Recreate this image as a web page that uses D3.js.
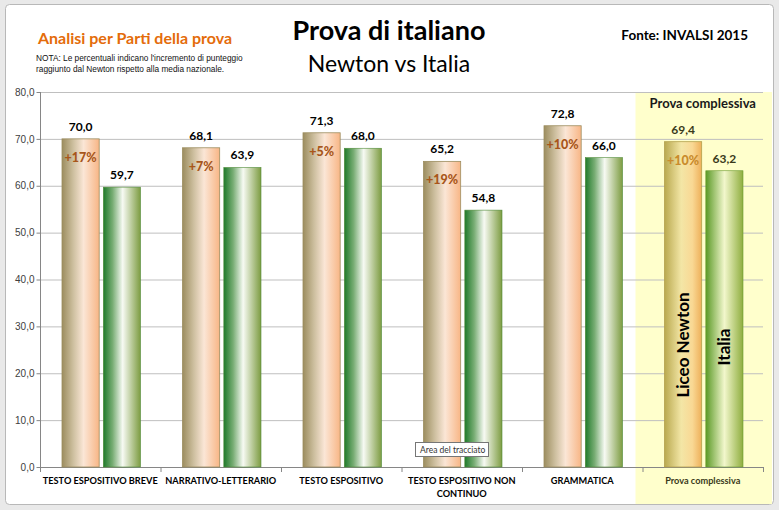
<!DOCTYPE html>
<html>
<head>
<meta charset="utf-8">
<script src="https://cdn.jsdelivr.net/npm/d3@7"></script>
<style>
  body { margin: 0; background: #e9e9e9; }
  svg { display: block; }
</style>
</head>
<body>
<svg></svg>
<script>
// data
let categories = ["TESTO ESPOSITIVO BREVE", "NARRATIVO-LETTERARIO", "TESTO ESPOSITIVO",
                  "TESTO ESPOSITIVO NON CONTINUO", "GRAMMATICA", "Prova complessiva"]
let newton = [70.0, 68.1, 71.3, 65.2, 72.8, 69.4]
let italia = [59.7, 63.9, 68.0, 54.8, 66.0, 63.2]
let increments = ["+17%", "+7%", "+5%", "+19%", "+10%", "+10%"]
let seriesNames = ["Liceo Newton", "Italia"]
let yTicks = [0, 10, 20, 30, 40, 50, 60, 70, 80]

let width = 779
let height = 510
let font = "Lato, 'Open Sans', sans-serif"

let svg = d3.select("svg").attr("width", width).attr("height", height)

// gradients for the bars
let defs = svg.append("defs")
let addGradient = function(id, stops) {
  let g = defs.append("linearGradient").attr("id", id)
              .attr("x1", "0%").attr("x2", "100%").attr("y1", "0%").attr("y2", "0%")
  stops.forEach(s => g.append("stop").attr("offset", s[0]).attr("stop-color", s[1]))
}
addGradient("newton", [["0%", "#9c8d5f"], ["30%", "#cdbf9f"], ["58%", "#fbe6d6"], ["100%", "#f8b686"]])
addGradient("italia", [["0%", "#1f7a2b"], ["25%", "#78ad74"], ["52%", "#f7faf3"], ["100%", "#7d9c42"]])
addGradient("newtonTot", [["0%", "#b9a94f"], ["45%", "#f3e6a6"], ["75%", "#f9d894"], ["100%", "#eeb05a"]])
addGradient("italiaTot", [["0%", "#5b9a27"], ["50%", "#f2f7cc"], ["100%", "#8fae3f"]])

// chart frame
svg.append("rect").attr("x", 5.5).attr("y", 4.5).attr("width", 768).attr("height", 500)
   .attr("rx", 4).attr("fill", "#ffffff").attr("stroke", "#b8b8b8")

// scales
let xScale = d3.scaleBand().domain(categories).range([40, 763]).padding(0)
let inner = d3.scaleBand().domain(seriesNames)
              .range([22, xScale.bandwidth() - 20]).paddingInner(0.1)
let yScale = d3.scaleLinear().domain([0, 80]).range([467, 92])

let last = categories[categories.length - 1]

// yellow highlight for the overall result
svg.append("rect")
   .attr("x", xScale(last) - 7).attr("y", yScale(80))
   .attr("width", 772 - (xScale(last) - 7)).attr("height", 504 - yScale(80))
   .attr("fill", "#ffffcc")

// gridlines
svg.append("g").selectAll("line").data(yTicks.filter(d => d > 0)).enter().append("line")
   .attr("x1", 40).attr("x2", 763)
   .attr("y1", d => yScale(d) + 0.5).attr("y2", d => yScale(d) + 0.5)
   .attr("stroke", "#bfbfbf")

// y axis
let yAxis = d3.axisLeft(yScale).tickValues(yTicks).tickSize(4)
              .tickFormat(d => d3.format(".1f")(d).replace(".", ","))
let yG = svg.append("g").attr("transform", "translate(40.5,0)").call(yAxis)
yG.select(".domain").attr("stroke", "#868686").attr("d", "M0," + yScale(80) + "V" + yScale(0))
yG.selectAll(".tick line").attr("stroke", "#868686")
yG.selectAll("text").attr("x", -6).attr("font-family", "'Liberation Sans', Arial, sans-serif")
  .attr("font-size", 10).attr("fill", "#404040")

// x axis line with ticks on category boundaries
svg.append("line").attr("x1", 40).attr("x2", 763)
   .attr("y1", yScale(0) + 0.5).attr("y2", yScale(0) + 0.5).attr("stroke", "#868686")
svg.append("g").selectAll("line").data(categories.concat(["end"])).enter().append("line")
   .attr("x1", (d, i) => (i < categories.length ? xScale(d) : 763) + 0.5)
   .attr("x2", (d, i) => (i < categories.length ? xScale(d) : 763) + 0.5)
   .attr("y1", yScale(0)).attr("y2", yScale(0) + 5).attr("stroke", "#868686")

// bars
let groups = svg.append("g").selectAll("g").data(categories).enter().append("g")
                .attr("transform", d => "translate(" + xScale(d) + ",0)")

groups.append("rect")
      .attr("x", inner("Liceo Newton")).attr("width", inner.bandwidth())
      .attr("y", (d, i) => yScale(newton[i])).attr("height", (d, i) => yScale(0) - yScale(newton[i]))
      .attr("fill", d => d === last ? "url(#newtonTot)" : "url(#newton)")
      .attr("stroke", d => d === last ? "#b3a04c" : "#9c8d5f").attr("stroke-width", 0.8)

groups.append("rect")
      .attr("x", inner("Italia")).attr("width", inner.bandwidth())
      .attr("y", (d, i) => yScale(italia[i])).attr("height", (d, i) => yScale(0) - yScale(italia[i]))
      .attr("fill", d => d === last ? "url(#italiaTot)" : "url(#italia)")
      .attr("stroke", d => d === last ? "#6a9a2e" : "#4f8a38").attr("stroke-width", 0.6)

// value labels
let fmt = v => d3.format(".1f")(v).replace(".", ",")
groups.append("text")
      .attr("x", inner("Liceo Newton") + inner.bandwidth() / 2)
      .attr("y", (d, i) => yScale(newton[i]) - 8)
      .attr("text-anchor", "middle").attr("font-family", font).attr("font-weight", "bold")
      .attr("font-size", 12).attr("fill", d => d === last ? "#3a3a1a" : "#000")
      .text((d, i) => fmt(newton[i]))
groups.append("text")
      .attr("x", inner("Italia") + inner.bandwidth() / 2)
      .attr("y", (d, i) => yScale(italia[i]) - 8)
      .attr("text-anchor", "middle").attr("font-family", font).attr("font-weight", "bold")
      .attr("font-size", 12).attr("fill", d => d === last ? "#3a3a1a" : "#000")
      .text((d, i) => fmt(italia[i]))

// increment labels inside the Newton bars
groups.append("text")
      .attr("x", inner("Liceo Newton") + inner.bandwidth() / 2)
      .attr("y", (d, i) => yScale(newton[i]) + 23)
      .attr("text-anchor", "middle").attr("font-family", font).attr("font-weight", 900)
      .attr("font-size", 12.5).attr("fill", d => d === last ? "#c98b2c" : "#a8561a")
      .text((d, i) => increments[i])

// series names written inside the overall bars
let lastG = groups.filter(d => d === last)
lastG.append("text")
     .attr("transform", "translate(" + (inner("Liceo Newton") + inner.bandwidth() / 2 + 6) + ",345) rotate(-90)")
     .attr("text-anchor", "middle").attr("font-family", font).attr("font-weight", "bold")
     .attr("font-size", 17).attr("fill", "#000").text("Liceo Newton")
lastG.append("text")
     .attr("transform", "translate(" + (inner("Italia") + inner.bandwidth() / 2 + 6) + ",347) rotate(-90)")
     .attr("text-anchor", "middle").attr("font-family", font).attr("font-weight", "bold")
     .attr("font-size", 17).attr("fill", "#000").text("Italia")

// category labels
groups.each(function(d) {
  let t = d3.select(this).append("text")
            .attr("text-anchor", "middle").attr("font-family", font).attr("font-weight", "bold")
            .attr("font-size", 9.2).attr("fill", d === last ? "#3a3a1a" : "#000")
  let lines = d === "TESTO ESPOSITIVO NON CONTINUO" ? ["TESTO ESPOSITIVO NON", "CONTINUO"] : [d]
  lines.forEach((l, k) => t.append("tspan").attr("x", xScale.bandwidth() / 2)
                           .attr("y", 484 + k * 13).text(l))
})

// titles
svg.append("text").attr("x", 389).attr("y", 40).attr("text-anchor", "middle")
   .attr("font-family", font).attr("font-weight", "bold").attr("font-size", 27).text("Prova di italiano")
svg.append("text").attr("x", 389).attr("y", 72).attr("text-anchor", "middle")
   .attr("font-family", font).attr("font-size", 23).text("Newton vs Italia")
svg.append("text").attr("x", 748).attr("y", 40).attr("text-anchor", "end")
   .attr("font-family", font).attr("font-weight", "bold").attr("font-size", 13.5).text("Fonte: INVALSI 2015")
svg.append("text").attr("x", 38).attr("y", 44)
   .attr("font-family", font).attr("font-weight", "bold").attr("font-size", 16)
   .attr("fill", "#e46c0a").text("Analisi per Parti della prova")
let nota = svg.append("text").attr("font-family", "'Liberation Sans', Arial, sans-serif")
              .attr("font-size", 8.3).attr("fill", "#111")
nota.append("tspan").attr("x", 36).attr("y", 61)
    .text("NOTA:  Le percentuali indicano l'incremento di punteggio")
nota.append("tspan").attr("x", 36).attr("y", 72)
    .text("raggiunto dal Newton  rispetto alla media nazionale.")

svg.append("text").attr("x", xScale(last) + xScale.bandwidth() / 2).attr("y", 108)
   .attr("text-anchor", "middle").attr("font-family", font).attr("font-weight", "bold")
   .attr("font-size", 13).attr("fill", "#1a1a1a").text("Prova  complessiva")

// tooltip visible in the screenshot
svg.append("rect").attr("x", 415.5).attr("y", 442.5).attr("width", 73).attr("height", 14)
   .attr("fill", "#ffffff").attr("stroke", "#767676")
svg.append("text").attr("x", 420).attr("y", 453).attr("font-family", font)
   .attr("font-size", 8.5).attr("fill", "#333").text("Area del tracciato")
</script>
</body>
</html>
